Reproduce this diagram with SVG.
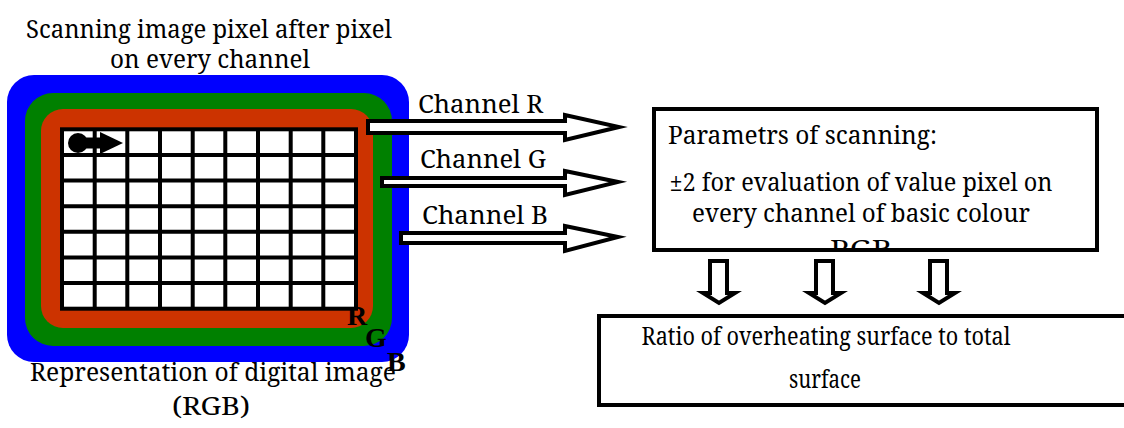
<svg xmlns="http://www.w3.org/2000/svg" width="1124" height="428" viewBox="0 0 1124 428">
  <style>
    text { font-family: "Noto Serif", "DejaVu Serif", serif; font-size: 26px; font-weight: 400; fill: #000; }
    .c { text-anchor: middle; }
    .b { font-family: "Liberation Serif", "Noto Serif", serif; font-size: 28px; font-weight: 700; }
    .box { fill: #fff; stroke: #000; stroke-width: 4; }
    .arr { fill: #fff; stroke: #000; stroke-width: 4; stroke-linejoin: miter; stroke-miterlimit: 10; }
    .grid { stroke: #000; stroke-width: 4; fill: none; }
  </style>
  <defs>
    <clipPath id="paramsClip">
      <rect x="656" y="111" width="439" height="137"/>
    </clipPath>
  </defs>
  <rect width="1124" height="428" fill="#fff"/>

  <!-- Digital image: RGB channel layers and pixel grid -->
  <g id="image">
    <text class="c" x="209" y="38" textLength="366" lengthAdjust="spacingAndGlyphs">Scanning image pixel after pixel</text>
    <text class="c" x="210" y="68" textLength="200" lengthAdjust="spacingAndGlyphs">on every channel</text>
    <rect x="7" y="75" width="402" height="287" rx="27" fill="#0000ff"/>
    <rect x="25" y="93" width="367" height="253" rx="28" fill="#008000"/>
    <rect x="41" y="109" width="332" height="219" rx="22" fill="#cc3300"/>
    <rect x="62" y="129.3" width="294" height="179.4" fill="#fff"/>
    <g class="grid">
      <rect x="62" y="129.3" width="294" height="179.4"/>
      <path d="M94.7 129.3V308.7M127.3 129.3V308.7M160 129.3V308.7M192.7 129.3V308.7M225.3 129.3V308.7M258 129.3V308.7M290.7 129.3V308.7M323.3 129.3V308.7"/>
      <path d="M62 154.9H356M62 180.5H356M62 206.2H356M62 231.8H356M62 257.5H356M62 283.1H356"/>
    </g>
    <!-- scan cursor -->
    <circle cx="78" cy="143" r="10" fill="#000"/>
    <rect x="86" y="137.5" width="16" height="11" fill="#000"/>
    <polygon points="100,132 123,143 100,154" fill="#000"/>
    <text class="b" x="347" y="325">R</text>
    <text class="b" x="365" y="347">G</text>
    <text class="b" x="387" y="371">B</text>
    <text class="c" x="213" y="381" textLength="366" lengthAdjust="spacingAndGlyphs">Representation of digital image</text>
    <text class="c" x="211" y="415" textLength="78" lengthAdjust="spacingAndGlyphs">(RGB)</text>
  </g>

  <!-- Scanning parameters -->
  <g id="params">
    <rect class="box" x="654" y="109" width="443" height="141"/>
    <g clip-path="url(#paramsClip)">
      <text x="668" y="144" textLength="269" lengthAdjust="spacingAndGlyphs">Parametrs of scanning:</text>
      <text class="c" x="861" y="191" textLength="383" lengthAdjust="spacingAndGlyphs">±2 for evaluation of value pixel on</text>
      <text class="c" x="861" y="222" textLength="338" lengthAdjust="spacingAndGlyphs">every channel of basic colour</text>
      <text class="c" x="861" y="258" textLength="62" lengthAdjust="spacingAndGlyphs">RGB</text>
    </g>
  </g>

  <!-- Result -->
  <g id="result">
    <rect class="box" x="599" y="316" width="540" height="89"/>
    <text class="c" x="826" y="345" textLength="369" lengthAdjust="spacingAndGlyphs">Ratio of overheating surface to total</text>
    <text class="c" x="825" y="388" textLength="72" lengthAdjust="spacingAndGlyphs">surface</text>
  </g>

  <!-- Connectors -->
  <g id="connectors">
    <polygon class="arr" points="368,121 565,121 565,115 619,127 565,140 565,133 368,133"/>
    <polygon class="arr" points="382,178 565,178 565,171 618,182 565,195 565,186 382,186"/>
    <polygon class="arr" points="401,233 565,233 565,226 618,237 565,251 565,243 401,243"/>
    <text x="418" y="113" textLength="125" lengthAdjust="spacingAndGlyphs">Channel R</text>
    <text x="420" y="168" textLength="126" lengthAdjust="spacingAndGlyphs">Channel G</text>
    <text x="422" y="224" textLength="126" lengthAdjust="spacingAndGlyphs">Channel B</text>
    <polygon class="arr" points="710,261 727,261 727,293 735,293 719,303 703,293 710,293"/>
    <polygon class="arr" points="816,261 833,261 833,293 841,293 825,303 809,293 816,293"/>
    <polygon class="arr" points="930,261 947,261 947,293 955,293 939,303 923,293 930,293"/>
  </g>
</svg>
